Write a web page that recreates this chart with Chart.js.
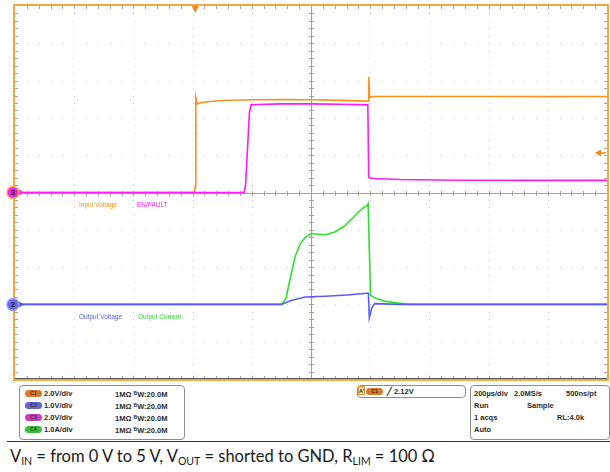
<!DOCTYPE html>
<html>
<head>
<meta charset="utf-8">
<script src="https://cdn.jsdelivr.net/npm/chart.js@4.4.1/dist/chart.umd.min.js"></script>
<style>
  body { margin: 0; background: #fff; }
  #wrap { position: relative; width: 610px; height: 472px; overflow: hidden; font-family: "Liberation Sans", Arial, sans-serif; }
  #scope { position: absolute; left: 0; top: 0; }
  .lbl { position: absolute; font-size: 6.5px; white-space: nowrap; line-height: 8px; }
  .box { position: absolute; border: 1px solid #8c8c8c; border-radius: 4px; box-sizing: border-box; background: #fff; }
  .txt { position: absolute; font-size: 7.5px; font-weight: bold; white-space: nowrap; line-height: 9px; color: #2a2a2a; }
  .pill { position: absolute; width: 17px; height: 7px; border-radius: 4px; font-size: 5px; line-height: 7px; text-align: center; color: #3a2a10; font-weight: bold; }
  .sup { font-size: 5px; vertical-align: 2px; }
  #caption { position: absolute; left: 10px; top: 446px; font-family: Lato, "Open Sans", sans-serif; font-size: 16.5px; color: #1a1a1a; white-space: nowrap; }
  #caption sub { font-size: 10.5px; vertical-align: -3px; line-height: 0; }
  #rule { position: absolute; left: 7px; top: 441px; width: 603px; height: 1px; background: #333; }
</style>
</head>
<body>
<div id="wrap">
  <canvas id="scope" width="610" height="385"></canvas>

  <div class="lbl" style="left:79px;top:201px;color:#f7931e">Input Voltage</div>
  <div class="lbl" style="left:137px;top:201px;color:#ff19ff">EN/FAULT</div>
  <div class="lbl" style="left:79px;top:313px;color:#5a5aff">Output Voltage</div>
  <div class="lbl" style="left:138px;top:313px;color:#2ed82e">Output Current</div>

  <div class="box" style="left:19px;top:385px;width:166px;height:55px"></div>
  <div class="pill" style="left:25px;top:390px;background:#d9782a">C1</div>
  <div class="txt" style="left:44px;top:389px">2.0V/div</div>
  <div class="txt" style="left:115px;top:389px">1MΩ <span class="sup">B</span>W:20.0M</div>
  <div class="pill" style="left:25px;top:402px;background:#6464d2">C2</div>
  <div class="txt" style="left:44px;top:401px">1.0V/div</div>
  <div class="txt" style="left:115px;top:401px">1MΩ <span class="sup">B</span>W:20.0M</div>
  <div class="pill" style="left:25px;top:414px;background:#c83cc8">C3</div>
  <div class="txt" style="left:44px;top:413px">2.0V/div</div>
  <div class="txt" style="left:115px;top:413px">1MΩ <span class="sup">B</span>W:20.0M</div>
  <div class="pill" style="left:25px;top:426px;background:#3cbf3c">C4</div>
  <div class="txt" style="left:44px;top:425px">1.0A/div</div>
  <div class="txt" style="left:115px;top:425px">1MΩ <span class="sup">B</span>W:20.0M</div>

  <div class="box" style="left:357px;top:385px;width:109px;height:13px"></div>
  <div class="txt" style="left:358px;top:386px;width:7px;height:9px;font-size:5.5px;line-height:9px;text-align:center;background:#f6d9b0;border:1px solid #e59a3a;box-sizing:border-box">A'</div>
  <div class="pill" style="left:366px;top:388px;background:#d9782a">C1</div>
  <div class="txt" style="left:387px;top:387px">&#x2571; 2.12V</div>

  <div class="box" style="left:470px;top:385px;width:140px;height:55px"></div>
  <div class="txt" style="left:474px;top:389px">200µs/div</div>
  <div class="txt" style="left:514px;top:389px">2.0MS/s</div>
  <div class="txt" style="left:566px;top:389px">500ns/pt</div>
  <div class="txt" style="left:474px;top:401px">Run</div>
  <div class="txt" style="left:527px;top:401px">Sample</div>
  <div class="txt" style="left:474px;top:413px">1 acqs</div>
  <div class="txt" style="left:557px;top:413px">RL:4.0k</div>
  <div class="txt" style="left:474px;top:425px">Auto</div>

  <div id="rule"></div>
  <div id="caption">V<sub>IN</sub> = from 0 V to 5 V, V<sub>OUT</sub> = shorted to GND, R<sub>LIM</sub> = 100 Ω</div>
</div>

<script>
// time in µs from left edge of screen (200 µs/div, 10 div)
var c1Time  = [0, 400, 606, 609, 611, 616, 630, 660, 700, 800, 900, 1000, 1100, 1190, 1193, 1195, 1198, 1210, 1400, 1600, 1800, 2000];
var c1Volts = [0, 0, 0, 0.3, 5.1, 4.75, 4.82, 4.88, 4.93, 4.97, 4.98, 4.97, 4.94, 4.9, 4.9, 6.2, 5.1, 5.15, 5.15, 5.15, 5.14, 5.15];

var c3Time  = [0, 400, 774, 779, 786, 792, 798, 820, 900, 1000, 1100, 1192, 1195, 1210, 1300, 1500, 1800, 2000];
var c3Volts = [0, 0, 0, 0.4, 2.5, 4.3, 4.7, 4.72, 4.75, 4.75, 4.73, 4.7, 0.8, 0.75, 0.7, 0.66, 0.65, 0.65];

var c2Time  = [0, 400, 900, 930, 980, 1050, 1120, 1190, 1194, 1197, 1205, 1215, 1300, 1600, 2000];
var c2Volts = [0, 0, 0, 0.1, 0.2, 0.22, 0.25, 0.3, 0.3, -0.36, -0.1, 0.02, 0, 0, 0];

var c4Time  = [0, 400, 900, 915, 930, 947, 964, 981, 1000, 1025, 1048, 1082, 1116, 1150, 1173, 1190, 1193, 1201, 1217, 1251, 1301, 1334, 1600, 2000];
var c4Amps  = [0, 0, 0, 0.15, 0.7, 1.3, 1.63, 1.8, 1.9, 1.88, 1.86, 1.95, 2.12, 2.39, 2.57, 2.65, 2.7, 0.25, 0.17, 0.08, 0.03, 0, 0, 0];

var triggerTime = 609;
var triggerLevel = 2.12;

function pts(t, v) {
  return t.map(function(tt, i) { return { x: tt, y: v[i] }; });
}

var scopeGraticule = {
  id: 'scopeGraticule',
  beforeDatasetsDraw: function(chart) {
    var ctx = chart.ctx, a = chart.chartArea;
    var xs = chart.scales.x, ys = chart.scales.yC1;
    var L = a.left, R = a.right, T = a.top, B = a.bottom;
    var dx = (R - L) / 50, dy = (B - T) / 50;
    ctx.save();
    ctx.fillStyle = '#c6c6c6';
    for (var i = 1; i < 10; i++) {
      if (i == 5) continue;
      var px = Math.round(xs.getPixelForValue(i * 200));
      for (var j = 1; j < 50; j++) ctx.fillRect(px, Math.round(T + j * dy), 1, 1);
    }
    for (var k = 1; k < 10; k++) {
      if (k == 5) continue;
      var py = Math.round(ys.getPixelForValue(10 - k * 2));
      for (var j = 1; j < 50; j++) ctx.fillRect(Math.round(L + j * dx), py, 1, 1);
    }
    var cx = Math.round(xs.getPixelForValue(1000)) + 0.5;
    var cy = Math.round(ys.getPixelForValue(0)) + 0.5;
    ctx.strokeStyle = '#aaa08f';
    ctx.lineWidth = 1;
    ctx.beginPath();
    ctx.moveTo(L, cy); ctx.lineTo(R, cy);
    ctx.moveTo(cx, T); ctx.lineTo(cx, B);
    for (var j = 1; j < 50; j++) {
      var tx = Math.round(L + j * dx) + 0.5, ty = Math.round(T + j * dy) + 0.5;
      ctx.moveTo(tx, cy - 2.5); ctx.lineTo(tx, cy + 2.5);
      ctx.moveTo(cx - 2.5, ty); ctx.lineTo(cx + 2.5, ty);
      ctx.moveTo(tx, T); ctx.lineTo(tx, T + 3);
      ctx.moveTo(tx, B); ctx.lineTo(tx, B - 3);
      ctx.moveTo(L, ty); ctx.lineTo(L + 3, ty);
      ctx.moveTo(R, ty); ctx.lineTo(R - 3, ty);
    }
    ctx.stroke();
    ctx.strokeStyle = '#555';
    ctx.beginPath(); ctx.moveTo(L, B - 0.5); ctx.lineTo(R, B - 0.5); ctx.stroke();
    ctx.restore();
  },
  afterDatasetsDraw: function(chart) {
    var ctx = chart.ctx, a = chart.chartArea;
    var xs = chart.scales.x;
    ctx.save();
    // orange frame
    ctx.strokeStyle = '#f4a742';
    ctx.lineWidth = 2;
    ctx.strokeRect(a.left - 1, a.top - 1, a.right - a.left + 2, a.bottom - a.top + 2);
    // trigger position marker
    var tx = xs.getPixelForValue(triggerTime);
    ctx.fillStyle = '#f7861a';
    ctx.beginPath();
    ctx.moveTo(tx - 3.5, a.top); ctx.lineTo(tx + 3.5, a.top); ctx.lineTo(tx, a.top + 7); ctx.closePath(); ctx.fill();
    // trigger level marker
    var ty = chart.scales.yC1.getPixelForValue(triggerLevel);
    ctx.beginPath();
    ctx.moveTo(a.right - 12, ty); ctx.lineTo(a.right - 6, ty - 3.5); ctx.lineTo(a.right - 6, ty + 3.5); ctx.closePath(); ctx.fill();
    ctx.fillRect(a.right - 6, ty - 0.75, 5, 1.5);
    // ground markers
    function marker(y, fill, ring, label, arrow) {
      ctx.fillStyle = arrow;
      ctx.beginPath(); ctx.moveTo(a.left + 4, y - 3); ctx.lineTo(a.left + 9, y); ctx.lineTo(a.left + 4, y + 3); ctx.closePath(); ctx.fill();
      ctx.beginPath(); ctx.arc(a.left - 2, y, 6, 0, Math.PI * 2);
      ctx.fillStyle = fill; ctx.fill();
      ctx.lineWidth = 1.5; ctx.strokeStyle = ring; ctx.stroke();
      ctx.fillStyle = '#202020';
      ctx.font = 'bold 8px "Liberation Sans", Arial, sans-serif';
      ctx.textAlign = 'center'; ctx.textBaseline = 'middle';
      ctx.fillText(label, a.left - 2, y + 0.5);
    }
    marker(chart.scales.yC2.getPixelForValue(0), '#6a6ae6', '#9a9af0', '2', '#5050f0');
    marker(chart.scales.yC3.getPixelForValue(0), '#f020f0', '#f6b040', '3', '#ff19ff');
    ctx.restore();
  }
};

var ctx = document.getElementById('scope').getContext('2d');
var scopeChart = new Chart(ctx, {
  type: 'line',
  data: {
    datasets: [
      { label: 'EN/FAULT', data: pts(c3Time, c3Volts), borderColor: '#ff19ff', yAxisID: 'yC3' },
      { label: 'Input Voltage', data: pts(c1Time, c1Volts), borderColor: '#f7931e', yAxisID: 'yC1' },
      { label: 'Output Voltage', data: pts(c2Time, c2Volts), borderColor: '#5a5aff', yAxisID: 'yC2' },
      { label: 'Output Current', data: pts(c4Time, c4Amps), borderColor: '#2ee02e', yAxisID: 'yC4' }
    ]
  },
  options: {
    responsive: false,
    animation: false,
    layout: { padding: { left: 15, right: 3, top: 6, bottom: 6 } },
    elements: { point: { radius: 0 }, line: { borderWidth: 1.6, tension: 0 } },
    plugins: { legend: { display: false }, tooltip: { enabled: false } },
    scales: {
      x: { type: 'linear', min: 0, max: 2000, display: false },
      yC1: { min: -10, max: 10, display: false },   // 2 V/div, ground at centre
      yC3: { min: -10, max: 10, display: false },   // 2 V/div, ground at centre
      yC2: { min: -2, max: 8, display: false },     // 1 V/div, ground 3 div below centre
      yC4: { min: -2, max: 8, display: false }      // 1 A/div, ground 3 div below centre
    }
  },
  plugins: [scopeGraticule]
});
</script>
</body>
</html>
